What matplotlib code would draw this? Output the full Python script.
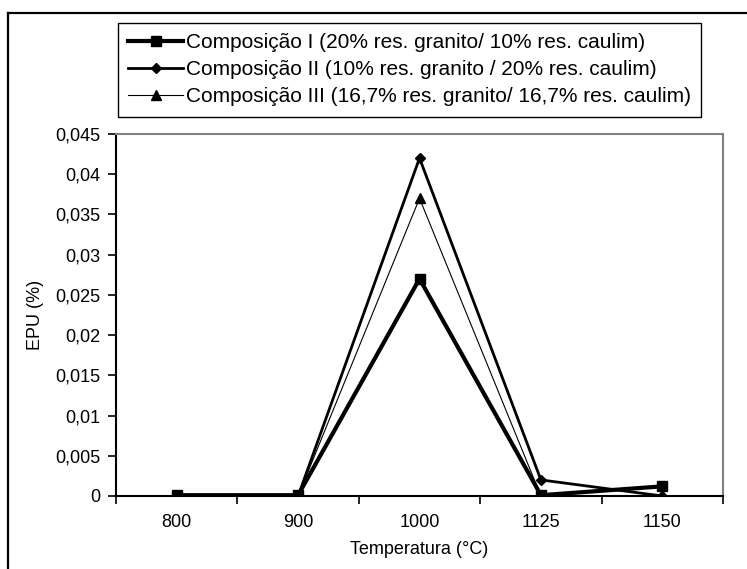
import numpy as np
import matplotlib.pyplot as plt
from matplotlib.ticker import FuncFormatter, FixedLocator
from matplotlib.lines import Line2D

plt.rcParams['font.family'] = ['Liberation Sans', 'DejaVu Sans']

temps = ['800', '900', '1000', '1125', '1150']
comp1 = [0.0001, 0.0001, 0.027, 0.0001, 0.0012]
comp2 = [0.0, 0.0, 0.042, 0.002, 0.0]
comp3 = [0.0, 0.0, 0.037, 0.0, 0.0]
labels = ['Composição I (20% res. granito/ 10% res. caulim)',
          'Composição II (10% res. granito / 20% res. caulim)',
          'Composição III (16,7% res. granito/ 16,7% res. caulim)']

fig = plt.figure(figsize=(7.47, 5.69), dpi=100)
ax = fig.add_axes([0.1553, 0.1283, 0.8126, 0.6362])

x = np.arange(len(temps))
l1, = ax.plot(x, comp1, color='black', lw=3, marker='s', markersize=7)
l2, = ax.plot(x, comp2, color='black', lw=2, marker='D', markersize=5.5)
l3, = ax.plot(x, comp3, color='black', lw=0.8, marker='^', markersize=7)

ax.set_xlim(-0.5, 4.5)
ax.set_ylim(0, 0.045)
ax.set_yticks(np.arange(0, 0.0451, 0.005))

def fmt(v, pos):
    s = ('%.3f' % v).rstrip('0').rstrip('.')
    return s.replace('.', ',')

ax.yaxis.set_major_formatter(FuncFormatter(fmt))
ax.set_xticks(x)
ax.set_xticklabels(temps)
ax.xaxis.set_minor_locator(FixedLocator(np.arange(-0.5, 4.6, 1)))
ax.tick_params(axis='x', which='major', length=0, pad=13, labelsize=13)
ax.tick_params(axis='x', which='minor', length=6, width=1.2, direction='out')
ax.tick_params(axis='y', length=6, width=1.2, direction='out', labelsize=13, pad=5)

for s in ['left', 'bottom']:
    ax.spines[s].set_color('black')
    ax.spines[s].set_linewidth(1.5)
for s in ['top', 'right']:
    ax.spines[s].set_color('#808080')
    ax.spines[s].set_linewidth(1.5)

ax.set_xlabel('Temperatura (°C)', fontsize=13, labelpad=7)
ax.set_ylabel('EPU (%)', fontsize=13, labelpad=8)

leg = fig.legend([l1, l2, l3], labels, loc='upper left',
                 bbox_to_anchor=(0.158, 0.9596), borderaxespad=0,
                 fontsize=15, handlelength=2.6, handletextpad=0.15,
                 labelspacing=0.38, borderpad=0.5, fancybox=False,
                 framealpha=1, edgecolor='black')
leg.get_frame().set_linewidth(1)

# outer border of the chart area (left and top edges visible)
fig.add_artist(Line2D([0.0107, 0.0107], [0.977, -0.01], color='black', lw=1.6,
                      transform=fig.transFigure))
fig.add_artist(Line2D([0.0107, 1.01], [0.977, 0.977], color='black', lw=1.6,
                      transform=fig.transFigure))

fig.savefig('out.png', dpi=100)
